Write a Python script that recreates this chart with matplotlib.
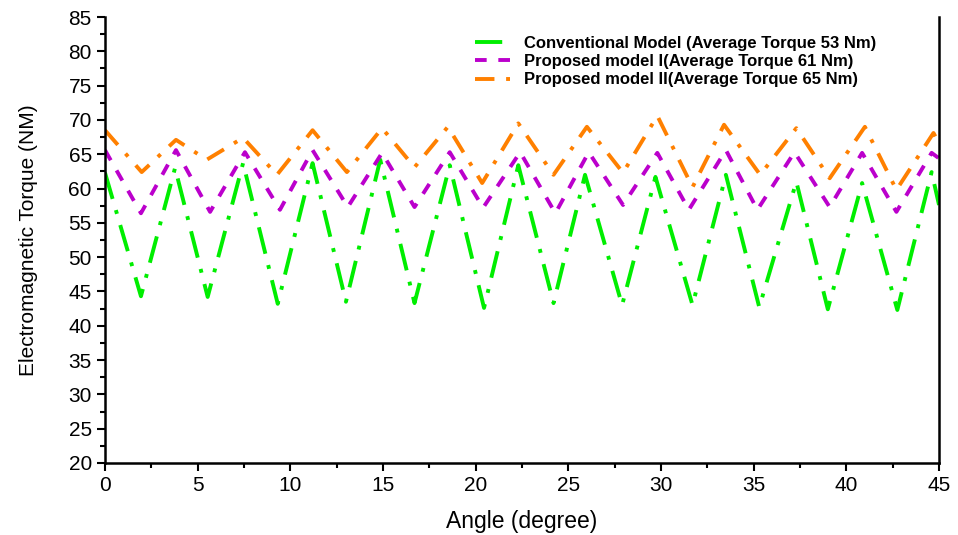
import numpy as np
import matplotlib.pyplot as plt
from matplotlib.ticker import MultipleLocator

plt.rcParams['font.family'] = ['Liberation Sans', 'DejaVu Sans']

# peak / trough points (angle in degree, torque in Nm)
conv_angle = [0, 1.94, 3.78, 5.54, 7.45, 9.32, 11.2, 13.0, 14.85, 16.7, 18.6, 20.45,
              22.3, 24.2, 25.9, 27.9, 29.7, 31.7, 33.5, 35.3, 37.3, 39.0, 40.85,
              42.75, 44.6, 45]
conv_torque = [62.3, 44.3, 63.0, 44.2, 63.7, 43.2, 63.7, 43.5, 64.2, 43.3, 63.4, 42.6,
               63.4, 43.3, 62.0, 43.0, 61.7, 43.0, 62.0, 42.7, 61.0, 42.4, 60.8,
               42.3, 62.4, 57.6]

m1_angle = [0, 1.94, 3.83, 5.67, 7.55, 9.44, 11.2, 13.1, 14.95, 16.7, 18.6, 20.4,
            22.4, 24.3, 26.1, 27.95, 29.8, 31.5, 33.5, 35.2, 37.2, 39.1, 40.85,
            42.7, 44.6, 45]
m1_torque = [65.6, 56.4, 65.6, 56.6, 65.3, 56.9, 65.6, 57.3, 65.2, 57.3, 65.3, 57.2,
             65.3, 56.4, 65.3, 57.6, 65.2, 56.9, 65.6, 56.9, 65.3, 57.3, 65.2,
             56.6, 65.2, 64.4]

m2_angle = [0, 1.98, 3.83, 5.49, 7.45, 9.28, 11.2, 13.05, 14.95, 16.7, 18.5, 20.35,
            22.3, 24.2, 26.0, 27.95, 29.8, 31.7, 33.4, 35.35, 37.3, 39.1, 41.0,
            42.7, 44.7, 45]
m2_torque = [68.5, 62.4, 67.1, 64.2, 67.4, 62.0, 68.5, 62.4, 68.8, 63.1, 69.0, 60.8,
             69.5, 62.0, 69.0, 62.3, 70.6, 60.2, 69.3, 62.0, 68.8, 61.5, 69.0,
             59.8, 68.1, 66.6]

labels = ['Conventional Model (Average Torque 53 Nm)',
          'Proposed model I(Average Torque 61 Nm)',
          'Proposed model II(Average Torque 65 Nm)']

fig = plt.figure(figsize=(9.58, 5.35), dpi=100)
ax = fig.add_axes([0.1096, 0.1346, 0.8706, 0.8336])

ax.plot(conv_angle, conv_torque, color='#00ee00', lw=2.8,
        dashes=(7, 3, 1, 3), label=labels[0])
ax.plot(m1_angle, m1_torque, color='#bb00cc', lw=2.8,
        dashes=(3, 3), label=labels[1])
ax.plot(m2_angle, m2_torque, color='#ff8000', lw=2.8,
        dashes=(5, 3, 1, 3), label=labels[2])

ax.set_xlim(0, 45)
ax.set_ylim(20, 85)
ax.xaxis.set_major_locator(MultipleLocator(5))
ax.xaxis.set_minor_locator(MultipleLocator(2.5))
ax.yaxis.set_major_locator(MultipleLocator(5))
ax.yaxis.set_minor_locator(MultipleLocator(2.5))
ax.tick_params(which='major', direction='out', length=6, width=1.5, labelsize=15)
ax.tick_params(which='minor', direction='out', length=3.5, width=1.5)
ax.spines['top'].set_visible(False)
for s in ['left', 'bottom', 'right']:
    ax.spines[s].set_linewidth(1.8)

ax.set_xlabel('Angle (degree)', fontsize=16.5, labelpad=11)
ax.set_ylabel('Electromagnetic Torque (NM)', fontsize=15, labelpad=22)

leg = ax.legend(loc='upper left', bbox_to_anchor=(0.4436, 0.958), frameon=False,
                prop={'weight': 'bold', 'size': 12}, handlelength=2.2,
                labelspacing=0.2, handletextpad=0.75, borderpad=0,
                borderaxespad=0)

fig.savefig('out.png', dpi=100)
